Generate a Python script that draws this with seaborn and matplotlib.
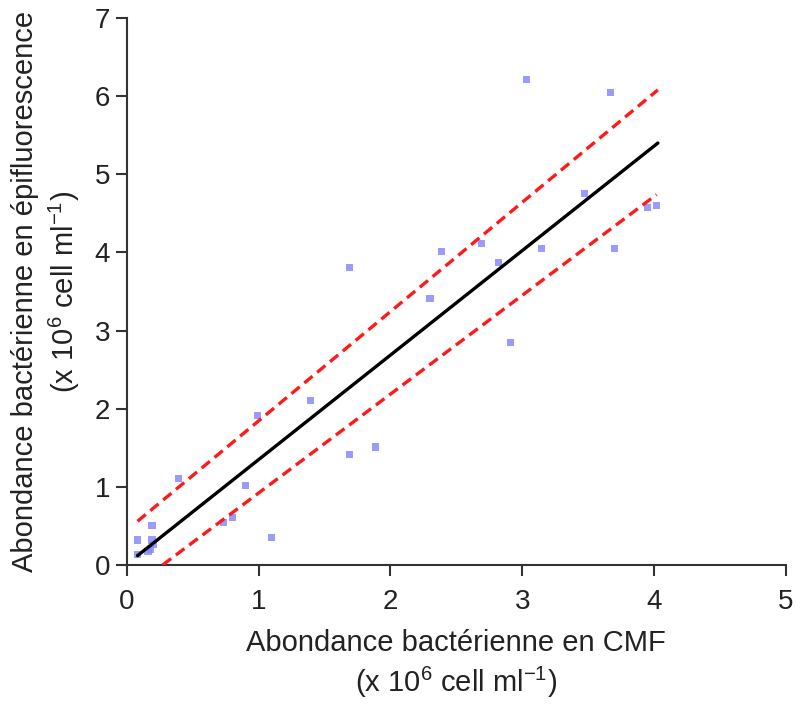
import numpy as np
import pandas as pd
import matplotlib
matplotlib.use("Agg")
import matplotlib.pyplot as plt
import seaborn as sns

# abondances (x 10^6 cell ml-1)
cmf = [0.08, 0.08, 0.19, 0.19, 0.20, 0.18, 0.16, 0.39, 0.73, 0.80,
       0.90, 0.99, 1.10, 1.39, 1.69, 1.89, 1.69, 2.30, 2.39, 2.69,
       2.82, 2.91, 3.03, 3.15, 3.47, 3.67, 3.70, 3.95, 4.02]
epi = [0.13, 0.32, 0.51, 0.32, 0.26, 0.20, 0.17, 1.11, 0.54, 0.61,
       1.02, 1.91, 0.35, 2.10, 1.41, 1.51, 3.81, 3.41, 4.01, 4.11,
       3.87, 2.85, 6.21, 4.05, 4.76, 6.05, 4.05, 4.57, 4.60]

# droite de régression et bornes (extrémités)
fit_x = [0.08, 4.03]
fit_y = [0.12, 5.40]
haut_x = [0.08, 4.03]
haut_y = [0.56, 6.08]
bas_x = [0.27, 4.02]
bas_y = [0.0, 4.74]

df = pd.DataFrame({"cmf": cmf, "epi": epi})

sns.set_style("ticks")
plt.rcParams["font.family"] = ["Liberation Sans", "DejaVu Sans"]
plt.rcParams["mathtext.default"] = "regular"

fig = plt.figure(figsize=(7.96, 7.04), dpi=100)
ax = fig.add_axes([0.1595, 0.1974, 0.8275, 0.777])

sns.scatterplot(data=df, x="cmf", y="epi", marker="s", s=26, color="#8888ff",
                edgecolor="none", alpha=0.85, ax=ax, zorder=2)
sns.lineplot(x=fit_x, y=fit_y, color="black", lw=2.4, ax=ax, zorder=3)
sns.lineplot(x=haut_x, y=haut_y, color="#ff1a1a", lw=2.4, ax=ax, zorder=3,
             dashes=False, linestyle=(0, (3.2, 1.8)))
sns.lineplot(x=bas_x, y=bas_y, color="#ff1a1a", lw=2.4, ax=ax, zorder=3,
             dashes=False, linestyle=(0, (3.2, 1.8)))

ax.set_xlim(0, 5)
ax.set_ylim(0, 7)
ax.set_xticks(range(0, 6))
ax.set_yticks(range(0, 8))
sns.despine(ax=ax)
for s in ["left", "bottom"]:
    ax.spines[s].set_linewidth(1.5)
    ax.spines[s].set_color("#333333")
ax.tick_params(direction="out", length=8, width=1.5, colors="#333333",
               labelsize=20, labelcolor="#222222", pad=4)
ax.tick_params(axis="x", pad=9)

ax.set_xlabel("Abondance bactérienne en CMF\n(x 10$^{6}$ cell ml$^{-1}$)",
              fontsize=21, color="#222222", linespacing=1.3, labelpad=10)
ax.set_ylabel("Abondance bactérienne en épifluorescence\n(x 10$^{6}$ cell ml$^{-1}$)",
              fontsize=21, color="#222222", linespacing=1.3, labelpad=9)

fig.savefig("out.png", dpi=100)
